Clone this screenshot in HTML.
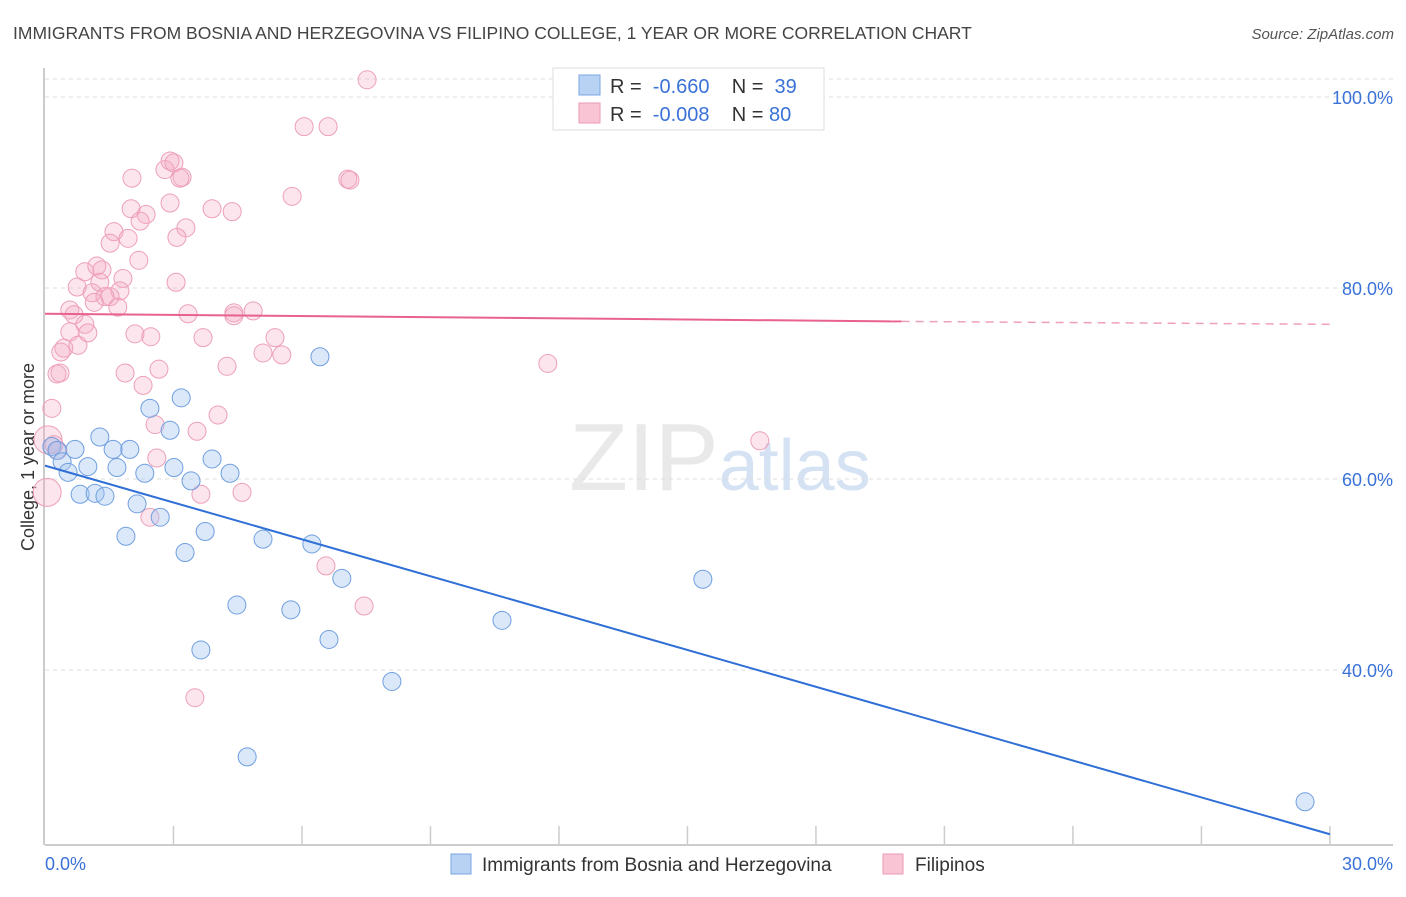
<!DOCTYPE html>
<html><head><meta charset="utf-8">
<style>
body{margin:0;background:#fff;font-family:"Liberation Sans",sans-serif;}
svg text{font-family:"Liberation Sans",sans-serif;}
</style></head>
<body>
<svg id="chart" width="1406" height="892" xmlns="http://www.w3.org/2000/svg">
<text x="13" y="39" font-size="17.5" fill="#444">IMMIGRANTS FROM BOSNIA AND HERZEGOVINA VS FILIPINO COLLEGE, 1 YEAR OR MORE CORRELATION CHART</text>
<text x="1394" y="39" font-size="15" fill="#555" text-anchor="end" font-style="italic">Source: ZipAtlas.com</text>
<text x="720" y="490" font-size="96" fill="#e0e0e0" text-anchor="middle" font-family="Liberation Serif" opacity="0.7">ZIP<tspan fill="#c4d6ef" font-family="Liberation Sans" font-size="72">atlas</tspan></text>
<text transform="translate(34,457) rotate(-90)" font-size="18" fill="#333" text-anchor="middle">College, 1 year or more</text>
<g id="grid"></g><g id="axes"></g><g id="pts"></g><g id="lines"></g>
<g>
<rect x="553" y="68" width="271" height="62" fill="#fff" stroke="#ddd"/>
<rect x="579" y="75" width="21" height="20" fill="#b8d2f4" stroke="#7aa6e2"/>
<rect x="579" y="103" width="21" height="20" fill="#f9c5d5" stroke="#ec9ab4"/>
<text x="610" y="93" font-size="20" fill="#333" xml:space="preserve">R =  <tspan fill="#3a72d8">-0.660</tspan>    N =  <tspan fill="#3a72d8">39</tspan></text>
<text x="610" y="121" font-size="20" fill="#333" xml:space="preserve">R =  <tspan fill="#3a72d8">-0.008</tspan>    N = <tspan fill="#3a72d8">80</tspan></text>
</g>
<g>
<rect x="451" y="854" width="20" height="20" fill="#b8d2f4" stroke="#7aa6e2"/>
<text x="482" y="871" font-size="19" fill="#333">Immigrants from Bosnia and Herzegovina</text>
<rect x="883" y="854" width="20" height="20" fill="#f9c5d5" stroke="#ec9ab4"/>
<text x="915" y="871" font-size="19" fill="#333">Filipinos</text>
</g>
</svg>
<script>
const blueX=[0.16,0.28,0.40,0.54,0.70,0.82,1.00,1.17,1.28,1.40,1.59,1.68,1.89,1.98,2.15,2.33,2.45,2.69,2.92,3.01,3.18,3.27,3.41,3.64,3.74,3.90,4.32,4.48,5.09,5.74,6.23,6.42,6.63,6.93,8.10,10.67,15.36,4.72,29.42];
const blueY=[63.4,63.0,61.8,60.7,63.1,58.4,61.3,58.5,64.4,58.2,63.1,61.2,54.0,63.1,57.4,60.6,67.4,56.0,65.1,61.2,68.5,52.3,59.8,42.1,54.5,62.1,60.6,46.8,53.7,46.3,53.2,72.8,43.2,49.6,38.8,45.2,49.5,30.9,26.2];
const pinkX=[7.52,6.05,6.61,2.92,2.80,3.01,3.20,3.15,2.03,7.07,7.12,5.77,2.92,2.01,2.36,3.90,4.37,2.22,3.29,1.61,3.08,1.94,1.52,2.19,0.93,1.21,1.33,1.82,3.06,1.28,0.75,1.10,1.75,1.52,1.40,1.70,0.58,0.68,3.34,4.86,4.41,4.41,0.93,0.58,1.00,2.10,2.47,5.37,3.69,0.77,0.44,0.37,5.09,5.53,11.74,4.25,2.66,1.87,0.28,0.35,2.29,0.16,4.04,2.57,3.55,0.07,0.21,16.69,2.61,3.64,4.60,0.05,2.45,6.56,7.45,3.50,0.30,1.15];
const pinkY=[101.8,96.9,96.9,93.3,92.4,93.1,91.6,91.5,91.5,91.4,91.3,89.6,88.9,88.3,87.7,88.3,88.0,87.0,86.3,85.9,85.3,85.2,84.7,82.9,81.7,82.3,81.9,81.0,80.6,80.6,80.1,79.5,79.7,79.1,79.1,78.0,77.7,77.2,77.3,77.6,77.4,77.1,76.2,75.4,75.3,75.2,74.9,74.8,74.8,74.0,73.7,73.3,73.2,73.0,72.1,71.8,71.5,71.1,71.0,71.1,69.8,67.4,66.7,65.7,65.0,64.1,63.6,64.0,62.2,58.4,58.6,58.6,56.0,50.9,46.7,37.1,63.0,78.5];
const pinkR=[9,9,9,9,9,9,9,9,9,9,9,9,9,9,9,9,9,9,9,9,9,9,9,9,9,9,9,9,9,9,9,9,9,9,9,9,9,9,9,9,9,9,9,9,9,9,9,9,9,9,9,9,9,9,9,9,9,9,9,9,9,9,9,9,9,14,9,9,9,9,9,14,9,9,9,9,9,9];
const yTicks=[100,80,60,40];
const blueLine=[[0,61.4],[30,22.8]];
const pinkLine=[[0,77.3],[20,76.5],[30,76.2]];
const X=v=>45+v*42.83, Y=v=>97+(100-v)*9.55;
const NS="http://www.w3.org/2000/svg";
function mk(t,a,p){const e=document.createElementNS(NS,t);for(const k in a)e.setAttribute(k,a[k]);document.getElementById(p).appendChild(e);return e;}
mk('line',{x1:45,x2:1393,y1:79,y2:79,stroke:'#ddd','stroke-dasharray':'4,4'},'grid');
yTicks.forEach(t=>{
 const l=mk('line',{x1:45,x2:1393,y1:Y(t),y2:Y(t),stroke:'#ddd','stroke-dasharray':'4,4'},'grid');
 
 
 const tx=mk('text',{x:1393,y:Y(t)+7,'font-size':18,fill:'#3a72d8','text-anchor':'end'},'axes');
 tx.textContent=t.toFixed(1)+'%';
 
 
});
const ax=mk('line',{x1:45,x2:1393,y1:845,y2:845,stroke:'#bbb','stroke-width':1.5},'axes');


const ay=mk('line',{x1:44,x2:44,y1:68,y2:845,stroke:'#bbb','stroke-width':1.5},'axes');


for(let i=1;i<=10;i++){const t=mk('line',{x1:X(i*3),x2:X(i*3),y1:826,y2:845,stroke:'#ccc','stroke-width':1.5},'axes');
 
 }
const xl=mk('text',{x:45,y:870,'font-size':18,fill:'#3a72d8'},'axes');xl.textContent='0.0%';


const xr=mk('text',{x:1393,y:870,'font-size':18,fill:'#3a72d8','text-anchor':'end'},'axes');xr.textContent='30.0%';


pinkX.forEach((v,i)=>{const c=mk('circle',{cx:X(v),cy:Y(pinkY[i]),r:pinkR[i],fill:'rgba(246,170,195,0.3)',stroke:'#eda0b8','stroke-width':1},'pts');
 
 });
blueX.forEach((v,i)=>{const c=mk('circle',{cx:X(v),cy:Y(blueY[i]),r:9,fill:'rgba(160,195,240,0.38)',stroke:'#6f9fe0','stroke-width':1},'pts');
 
 });
const bl=mk('line',{x1:X(blueLine[0][0]),y1:Y(blueLine[0][1]),x2:X(blueLine[1][0]),y2:Y(blueLine[1][1]),stroke:'#2f6fd6','stroke-width':2},'lines');


const pl=mk('line',{x1:X(pinkLine[0][0]),y1:Y(pinkLine[0][1]),x2:X(pinkLine[1][0]),y2:Y(pinkLine[1][1]),stroke:'#e8628e','stroke-width':2},'lines');


const pd=mk('line',{x1:X(pinkLine[1][0]),y1:Y(pinkLine[1][1]),x2:X(pinkLine[2][0]),y2:Y(pinkLine[2][1]),stroke:'#eea0b8','stroke-width':1.5,'stroke-dasharray':'8,6'},'lines');


</script>
</body></html>
